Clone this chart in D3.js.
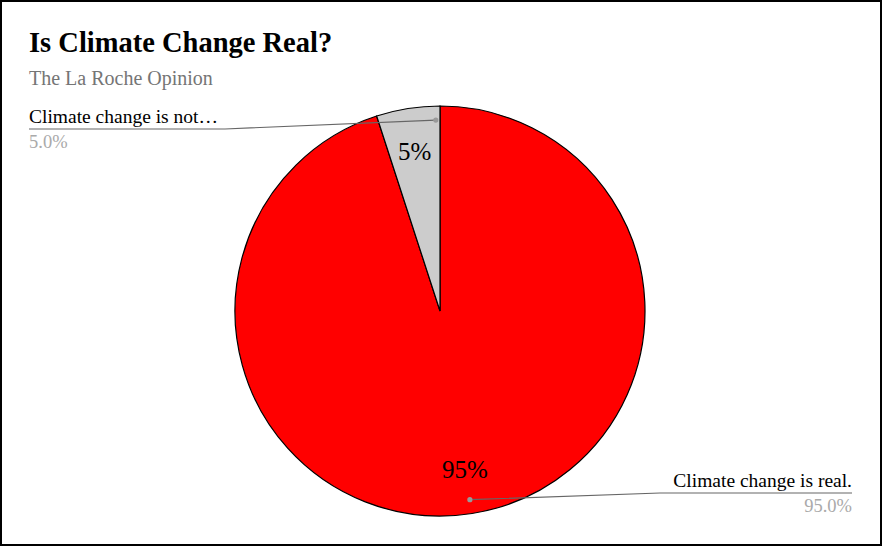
<!DOCTYPE html>
<html><head><meta charset="utf-8">
<script src="https://cdn.jsdelivr.net/npm/d3@7"></script>
<style>
html,body{margin:0;padding:0;background:#fff;}
svg{display:block;}
</style></head>
<body>
<script>
const title = "Is Climate Change Real?";
const subtitle = "The La Roche Opinion";
const categories = ["Climate change is real.", "Climate change is not…"];
const values = [95, 5];
const colors = ["#ff0000", "#cccccc"];

const FONT = "'Liberation Serif', 'Times New Roman', serif";
const W = 882, H = 546;
const svg = d3.select("body").append("svg").attr("width", W).attr("height", H)
  .attr("font-family", FONT);
svg.append("rect").attr("x",1).attr("y",1).attr("width",W-2).attr("height",H-2)
  .attr("fill","#fff").attr("stroke","#000").attr("stroke-width",2);

svg.append("text").attr("x",29).attr("y",52).attr("font-size",28.5).attr("font-weight","bold")
  .attr("font-family",FONT).attr("fill","#000").text(title);
svg.append("text").attr("x",29).attr("y",85).attr("font-size",20).attr("font-family",FONT)
  .attr("fill","#757575").text(subtitle);

const cx = 440, cy = 311, r = 205;
const total = d3.sum(values);
const pie = d3.pie().sort(null).value(d=>d)(values);
const arc = d3.arc().innerRadius(0).outerRadius(r);
const g = svg.append("g").attr("transform",`translate(${cx},${cy})`);
g.selectAll("path").data(pie).enter().append("path")
  .attr("d",arc).attr("fill",(d,i)=>colors[i]).attr("stroke","#000").attr("stroke-width",1.2);

// in-slice percent labels
const labelR = [160, 162];
pie.forEach((d,i)=>{
  const a = (d.startAngle + d.endAngle)/2;
  const x = Math.sin(a)*labelR[i], y = -Math.cos(a)*labelR[i];
  g.append("text").attr("x",x).attr("y",y).attr("text-anchor","middle").attr("dy","0.35em")
    .attr("font-family",FONT).attr("font-size",25).attr("fill","#000")
    .text(d3.format(".0%")(values[i]/total));
});

// leader lines
const anchorFrac = [0.5, 0.93];
const side = [
  {bend:[660,493], end:[852,493], anchor:"end", tx:852},
  {bend:[225,129], end:[29,129], anchor:"start", tx:29}
];
pie.forEach((d,i)=>{
  const a = d.startAngle + (d.endAngle-d.startAngle)*anchorFrac[i];
  const px = cx + Math.sin(a)*191, py = cy - Math.cos(a)*191;
  const s = side[i];
  svg.append("path").attr("d",`M${px},${py}L${s.bend[0]},${s.bend[1]}L${s.end[0]},${s.end[1]}`)
    .attr("fill","none").attr("stroke","#666").attr("stroke-width",1.2);
  svg.append("circle").attr("cx",px).attr("cy",py).attr("r",2.6).attr("fill","#999");
  svg.append("text").attr("x",s.tx).attr("y",s.end[1]-6).attr("text-anchor",s.anchor)
    .attr("font-family",FONT).attr("font-size",19.5).attr("fill","#000").text(categories[i]);
  svg.append("text").attr("x",s.tx).attr("y",s.end[1]+19).attr("text-anchor",s.anchor)
    .attr("font-family",FONT).attr("font-size",18.5).attr("fill","#aaaaaa")
    .text(d3.format(".1%")(values[i]/total));
});
</script>
</body></html>
